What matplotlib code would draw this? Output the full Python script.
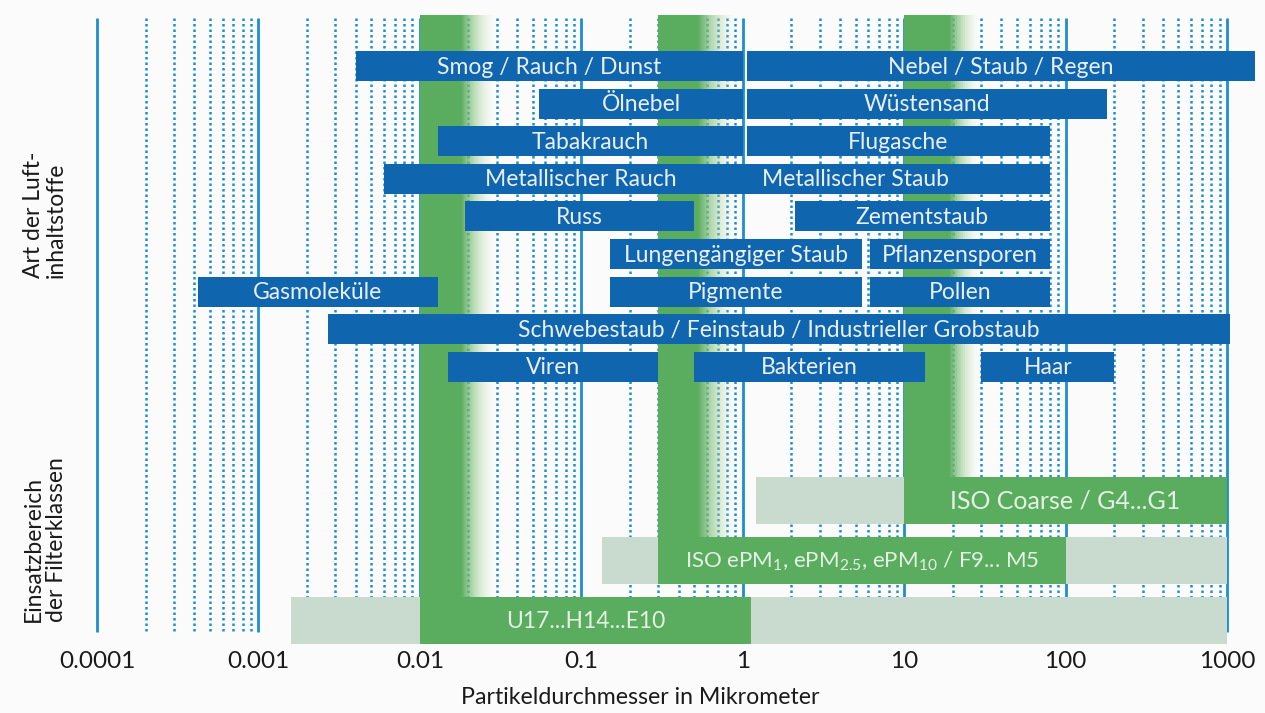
import matplotlib
matplotlib.use("Agg")
import matplotlib.pyplot as plt
from matplotlib.patches import Rectangle
import numpy as np

plt.rcParams["font.family"] = ["Lato", "DejaVu Sans"]
plt.rcParams["mathtext.default"] = "regular"

# Art der Luftinhaltstoffe: Name, Zeile, Bereich in Mikrometer
stoff_labels = [
    "Smog / Rauch / Dunst", "Nebel / Staub / Regen",
    "Ölnebel", "Wüstensand",
    "Tabakrauch", "Flugasche",
    "Metallischer Rauch", "Metallischer Staub",
    "Russ", "Zementstaub",
    "Lungengängiger Staub", "Pflanzensporen",
    "Gasmoleküle", "Pigmente", "Pollen",
    "Schwebestaub / Feinstaub / Industrieller Grobstaub",
    "Viren", "Bakterien", "Haar",
]
stoff_row = [0, 0, 1, 1, 2, 2, 3, 3, 4, 4, 5, 5, 6, 6, 6, 7, 8, 8, 8]
stoff_min = [0.004, 1.06, 0.055, 1.06, 0.013, 1.06, 0.006, 1.0, 0.019, 2.1,
             0.15, 6.1, 0.00042, 0.15, 6.1, 0.0027, 0.015, 0.5, 30]
stoff_max = [1.0, 1500, 1.0, 180, 1.0, 80, 1.0, 80, 0.5, 80,
             5.5, 80, 0.013, 5.5, 80, 1050, 0.3, 13.5, 200]
label_at = {"Metallischer Rauch": 0.1, "Metallischer Staub": 5.0}

# Filterklassen
filter_labels = [
    "ISO Coarse / G4...G1",
    "ISO ePM$_1$, ePM$_{2.5}$, ePM$_{10}$ / F9... M5",
    "U17...H14...E10",
]
filter_light_min = [1.2, 0.134, 0.0016]
filter_light_max = [1000, 1000, 1000]
filter_min = [10, 0.3, 0.01]
filter_max = [1000, 100, 1.12]
filter_fs = [18, 16, 16.5]

# gruene Baender (Beginn, Ende voll, Ende Verlauf), reichen bis Filterzeile
band_start = [0.01, 0.3, 10]
band_solid = [0.018, 0.53, 19]
band_end = [0.029, 0.9, 29]
band_filter = [2, 1, 0]

decades = [1e-4, 1e-3, 1e-2, 1e-1, 1, 10, 100, 1000]
decade_labels = ["0.0001", "0.001", "0.01", "0.1", "1", "10", "100", "1000"]

BLUE = "#0f65ae"
GRID = "#1c8fd0"
GREEN = "#5aac5e"
LIGHT = "#c9dbce"
DARK = "#1a1a1a"

# Layout in Pixel (y nach unten)
ROW_Y0, ROW_STEP, ROW_H = 66, 37.6, 30
FIL_Y0, FIL_STEP, FIL_H = 500, 60, 47
LINE_TOP, LINE_BOT = 18, 632

fig = plt.figure(figsize=(12.65, 7.13), dpi=100, facecolor="#fbfbfb")
ax = fig.add_axes([97 / 1265, 63 / 713, 1168 / 1265, 640 / 713])
ax.set_facecolor("#fbfbfb")
ax.set_xscale("log")
ax.set_xlim(1e-4, 10 ** 3.235)
ax.set_ylim(650, 10)
for s in ax.spines.values():
    s.set_visible(False)
ax.set_yticks([])
ax.set_xticks(decades)
ax.set_xticklabels(decade_labels, fontsize=17.5, color=DARK)
ax.tick_params(axis="x", length=0, pad=1)
ax.minorticks_off()

# Gitter
for d in decades:
    ax.plot([d, d], [LINE_TOP, LINE_BOT], color=GRID, lw=2, zorder=1,
            clip_on=False, solid_capstyle="butt")
    if d < 1000:
        for m in range(2, 10):
            ax.plot([d * m, d * m], [LINE_TOP, LINE_BOT], color=GRID, lw=1.8,
                    linestyle=(0, (1.0, 1.2)), zorder=1)

# gruene Verlaufsbaender
green_rgb = np.array(matplotlib.colors.to_rgb(GREEN))
pale_rgb = np.array(matplotlib.colors.to_rgb("#d8ebbd"))
for b0, b1, b2, fi in zip(band_start, band_solid, band_end, band_filter):
    bottom = FIL_Y0 + FIL_STEP * fi
    ax.add_patch(Rectangle((b0, LINE_TOP - 3), b1 - b0, bottom - LINE_TOP + 3,
                           facecolor=GREEN, edgecolor="none", zorder=2))
    n = 40
    edges = np.logspace(np.log10(b1), np.log10(b2), n + 1)
    for k in range(n):
        t = (k + 0.5) / n
        col = (1 - t) * green_rgb + t * pale_rgb
        ax.add_patch(Rectangle((edges[k], LINE_TOP - 3), edges[k + 1] - edges[k],
                               bottom - LINE_TOP + 3, facecolor=col,
                               alpha=(1 - t) ** 1.1, edgecolor="none", zorder=2))

# blaue Balken
for name, r, x0, x1 in zip(stoff_labels, stoff_row, stoff_min, stoff_max):
    yc = ROW_Y0 + ROW_STEP * r
    ax.add_patch(Rectangle((x0, yc - ROW_H / 2), x1 - x0, ROW_H,
                           facecolor=BLUE, edgecolor="none", zorder=3,
                           clip_on=False))
    xt = label_at.get(name, np.sqrt(x0 * x1))
    ax.text(xt, yc + 1, name, ha="center", va="center", color="#e9eff6",
            fontsize=16.5, zorder=4)

# Filterklassen
for i, (lab, l0, l1, g0, g1, fs) in enumerate(zip(filter_labels, filter_light_min,
                                                  filter_light_max, filter_min,
                                                  filter_max, filter_fs)):
    yc = FIL_Y0 + FIL_STEP * i
    ax.add_patch(Rectangle((l0, yc - FIL_H / 2), l1 - l0, FIL_H,
                           facecolor=LIGHT, edgecolor="none", zorder=3))
    ax.add_patch(Rectangle((g0, yc - FIL_H / 2), g1 - g0, FIL_H,
                           facecolor=GREEN, edgecolor="none", zorder=3))
    ax.text(np.sqrt(g0 * g1), yc + 1, lab, ha="center", va="center",
            color="#e4f1e4", fontsize=fs, zorder=4)

fig.text(45 / 1265, 1 - 215 / 713, "Art der Luft-\ninhaltstoffe", rotation=90,
         ha="center", va="center", multialignment="left", fontsize=16.5,
         color=DARK, linespacing=1.1)
fig.text(45 / 1265, 1 - 540 / 713, "Einsatzbereich\nder Filterklassen",
         rotation=90, ha="center", va="center", multialignment="left",
         fontsize=16.5, color=DARK, linespacing=1.1)
fig.text(640 / 1265, 1 - 697 / 713, "Partikeldurchmesser in Mikrometer",
         ha="center", va="center", fontsize=16.7, color=DARK)

fig.savefig("out.png", dpi=100, facecolor=fig.get_facecolor())
